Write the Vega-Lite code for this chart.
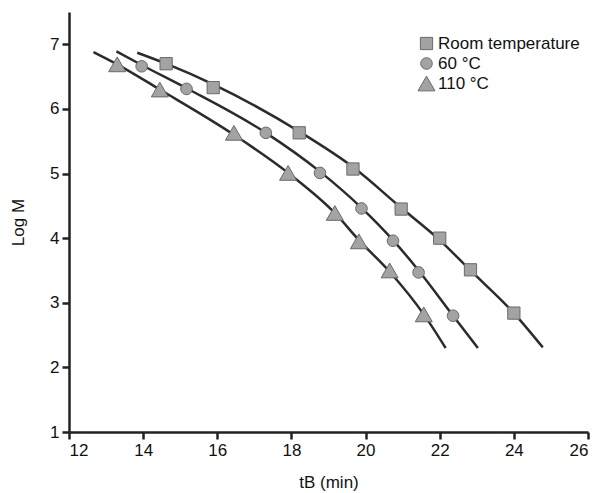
{
  "$schema": "https://vega.github.io/schema/vega-lite/v6.json",
  "autosize": {"type": "none"},
  "padding": {"left": 69, "top": 12, "right": 18, "bottom": 61},
  "width": 519,
  "height": 420,
  "background": "white",
  "config": {
    "font": "Liberation Sans",
    "view": {"stroke": null},
    "axis": {
      "domainColor": "#222",
      "domainWidth": 2.5,
      "tickColor": "#222",
      "tickWidth": 2.5,
      "tickSize": 7,
      "labelFontSize": 17,
      "labelColor": "#111",
      "titleFontSize": 17,
      "titleFontWeight": "normal",
      "titleColor": "#111",
      "grid": false,
      "labelPadding": 3
    }
  },
  "datasets": {
    "points": [
      {"series": "Room temperature", "t": 14.62, "logM": 6.70},
      {"series": "Room temperature", "t": 15.89, "logM": 6.33},
      {"series": "Room temperature", "t": 18.21, "logM": 5.63},
      {"series": "Room temperature", "t": 19.66, "logM": 5.07},
      {"series": "Room temperature", "t": 20.96, "logM": 4.45},
      {"series": "Room temperature", "t": 22.0, "logM": 4.0},
      {"series": "Room temperature", "t": 22.83, "logM": 3.51},
      {"series": "Room temperature", "t": 24.0, "logM": 2.84},
      {"series": "60 °C", "t": 13.96, "logM": 6.66},
      {"series": "60 °C", "t": 15.17, "logM": 6.31},
      {"series": "60 °C", "t": 17.31, "logM": 5.63},
      {"series": "60 °C", "t": 18.77, "logM": 5.01},
      {"series": "60 °C", "t": 19.89, "logM": 4.46},
      {"series": "60 °C", "t": 20.74, "logM": 3.96},
      {"series": "60 °C", "t": 21.43, "logM": 3.47},
      {"series": "60 °C", "t": 22.36, "logM": 2.80},
      {"series": "110 °C", "t": 13.3, "logM": 6.69},
      {"series": "110 °C", "t": 14.45, "logM": 6.30},
      {"series": "110 °C", "t": 16.45, "logM": 5.63},
      {"series": "110 °C", "t": 17.91, "logM": 5.01},
      {"series": "110 °C", "t": 19.17, "logM": 4.39},
      {"series": "110 °C", "t": 19.82, "logM": 3.95},
      {"series": "110 °C", "t": 20.65, "logM": 3.50},
      {"series": "110 °C", "t": 21.57, "logM": 2.82}
    ],
    "curves": [
      {"series": "Room temperature", "t": 13.84, "logM": 6.87},
      {"series": "Room temperature", "t": 14.62, "logM": 6.70},
      {"series": "Room temperature", "t": 15.89, "logM": 6.38},
      {"series": "Room temperature", "t": 18.21, "logM": 5.65},
      {"series": "Room temperature", "t": 19.66, "logM": 5.10},
      {"series": "Room temperature", "t": 20.96, "logM": 4.47},
      {"series": "Room temperature", "t": 22.0, "logM": 3.97},
      {"series": "Room temperature", "t": 22.83, "logM": 3.50},
      {"series": "Room temperature", "t": 24.0, "logM": 2.84},
      {"series": "Room temperature", "t": 24.78, "logM": 2.31},
      {"series": "60 °C", "t": 13.28, "logM": 6.89},
      {"series": "60 °C", "t": 13.96, "logM": 6.68},
      {"series": "60 °C", "t": 15.17, "logM": 6.32},
      {"series": "60 °C", "t": 17.31, "logM": 5.63},
      {"series": "60 °C", "t": 18.77, "logM": 5.03},
      {"series": "60 °C", "t": 19.89, "logM": 4.47},
      {"series": "60 °C", "t": 20.74, "logM": 3.97},
      {"series": "60 °C", "t": 21.43, "logM": 3.50},
      {"series": "60 °C", "t": 22.36, "logM": 2.80},
      {"series": "60 °C", "t": 23.03, "logM": 2.30},
      {"series": "110 °C", "t": 12.66, "logM": 6.88},
      {"series": "110 °C", "t": 13.3, "logM": 6.69},
      {"series": "110 °C", "t": 14.45, "logM": 6.30},
      {"series": "110 °C", "t": 16.45, "logM": 5.60},
      {"series": "110 °C", "t": 17.91, "logM": 5.01},
      {"series": "110 °C", "t": 19.17, "logM": 4.39},
      {"series": "110 °C", "t": 19.82, "logM": 3.97},
      {"series": "110 °C", "t": 20.65, "logM": 3.48},
      {"series": "110 °C", "t": 21.57, "logM": 2.82},
      {"series": "110 °C", "t": 22.16, "logM": 2.30}
    ]
  },
  "layer": [
    {
      "data": {"name": "curves"},
      "mark": {"type": "line", "interpolate": "monotone", "color": "#2b2b2b", "strokeWidth": 2.5},
      "encoding": {
        "x": {"field": "t", "type": "quantitative", "scale": {"domain": [12, 26], "nice": false, "zero": false},
              "axis": {"values": [12, 14, 16, 18, 20, 22, 24, 26], "title": "tB (min)", "titlePadding": 16}},
        "y": {"field": "logM", "type": "quantitative", "scale": {"domain": [1, 7.5], "nice": false, "zero": false},
              "axis": {"values": [1, 2, 3, 4, 5, 6, 7], "format": "d", "title": "Log M", "titlePadding": 22}},
        "detail": {"field": "series"}
      }
    },
    {
      "data": {"name": "points"},
      "mark": {"type": "point", "filled": true, "fill": "#a3a3a3", "stroke": "#6a6a6a", "strokeWidth": 1, "opacity": 1},
      "encoding": {
        "x": {"field": "t", "type": "quantitative"},
        "y": {"field": "logM", "type": "quantitative"},
        "shape": {"field": "series", "type": "nominal",
                  "scale": {"domain": ["Room temperature", "60 °C", "110 °C"], "range": ["square", "circle", "triangle-up"]},
                  "legend": {"title": null, "orient": "none", "legendX": 348, "legendY": 23, "labelFontSize": 17, "labelColor": "#111",
                             "symbolFillColor": "#a3a3a3", "symbolStrokeColor": "#6a6a6a", "symbolStrokeWidth": 1, "rowPadding": 2, "labelOffset": 2}},
        "size": {"field": "series", "type": "nominal",
                 "scale": {"type": "ordinal", "domain": ["Room temperature", "60 °C", "110 °C"], "range": [150, 135, 290]}}
      }
    }
  ]
}
